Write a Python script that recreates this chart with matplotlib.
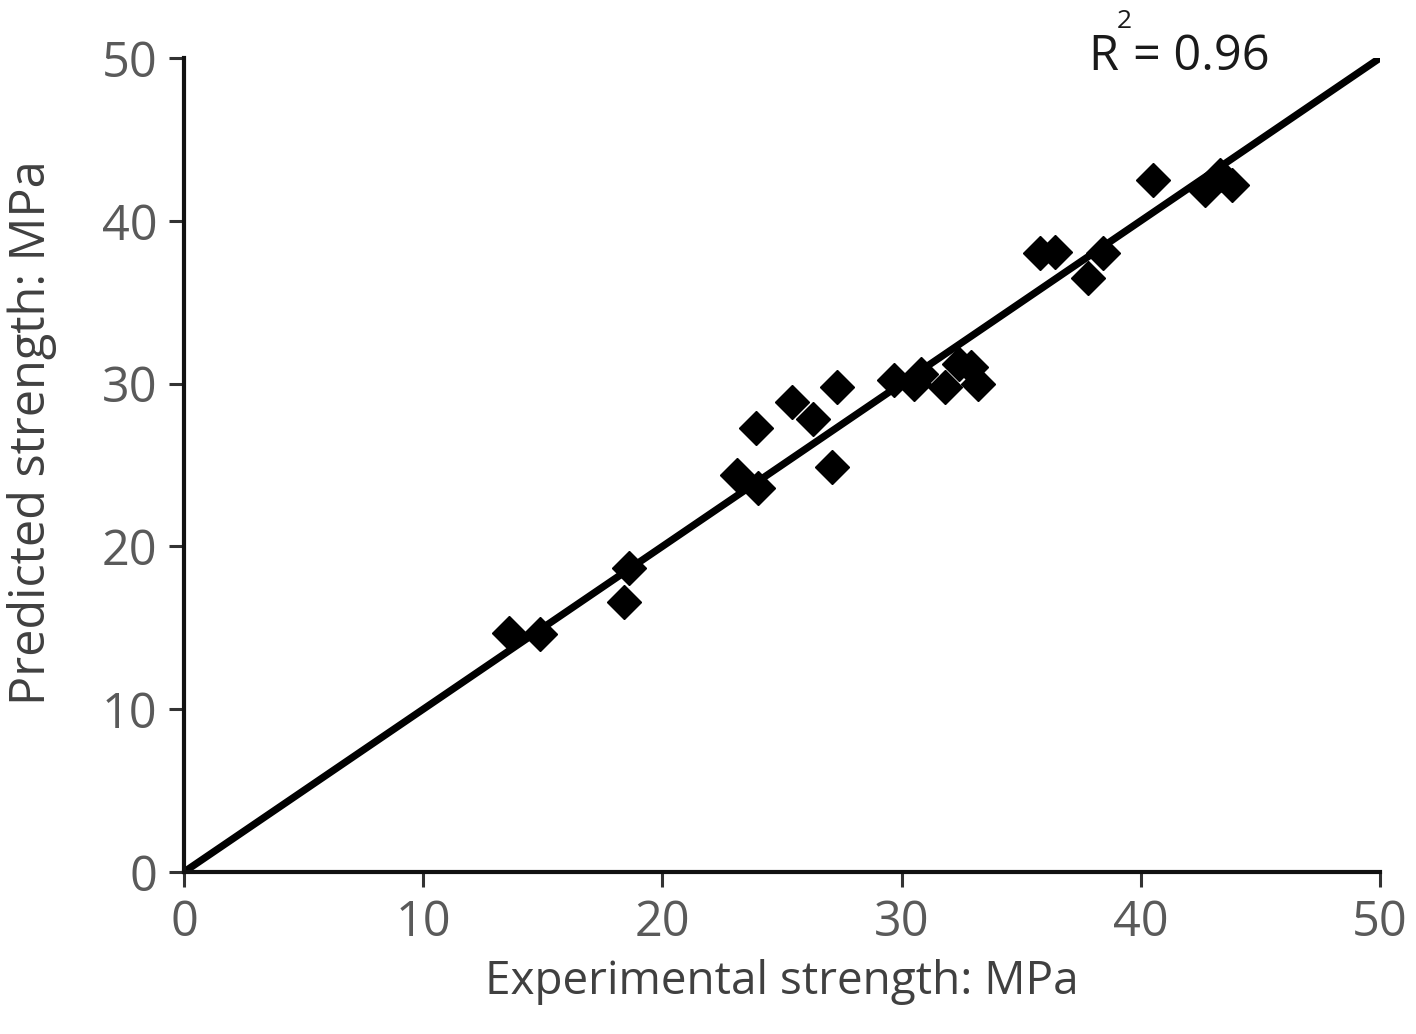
import matplotlib
matplotlib.use("Agg")
import matplotlib.pyplot as plt
from matplotlib import font_manager

# Experimental vs predicted compressive strength (MPa)
experimental = [13.6, 14.9, 18.4, 18.6, 23.1, 23.9, 24.0, 25.4, 26.3, 27.3, 27.1,
                29.7, 30.5, 30.8, 31.8, 32.4, 32.9, 33.2,
                35.8, 36.4, 37.8, 38.4, 40.5, 42.7, 43.3, 43.8]
predicted = [14.7, 14.6, 16.6, 18.7, 24.4, 27.3, 23.6, 28.9, 27.8, 29.8, 24.9,
             30.2, 30.0, 30.6, 29.8, 31.2, 31.0, 30.0,
             38.0, 38.1, 36.5, 38.0, 42.5, 41.9, 42.8, 42.2]
fit_line = [0, 50]
ticks = [0, 10, 20, 30, 40, 50]

available = {f.name for f in font_manager.fontManager.ttflist}
label_font = "Liberation Sans Narrow" if "Liberation Sans Narrow" in available else "Open Sans"
plt.rcParams["font.family"] = ["Open Sans", "DejaVu Sans"]

W, H = 1416, 1034
fig = plt.figure(figsize=(W / 100, H / 100), dpi=100)
ax = fig.add_axes([184 / W, 1 - 872 / H, (1380 - 184) / W, (872 - 58) / H])

ax.plot(fit_line, fit_line, color="black", lw=5.2, solid_capstyle="butt", zorder=2)
ax.plot(experimental, predicted, linestyle="none", marker="D", markersize=17,
        color="black", zorder=3)

ax.set_xlim(0, 50)
ax.set_ylim(0, 50)
ax.set_xticks(ticks)
ax.set_yticks(ticks)
for s in ("top", "right"):
    ax.spines[s].set_visible(False)
for s in ("left", "bottom"):
    ax.spines[s].set_linewidth(3)
    ax.spines[s].set_color("#111111")
ax.tick_params(direction="out", length=11, width=2.2, colors="#333333",
               labelcolor="#5a5a5a", labelsize=35, pad=8)

ax.set_xlabel("Experimental strength: MPa", fontsize=33, color="#404040",
              family=[label_font, "DejaVu Sans"], labelpad=8)
ax.set_ylabel("Predicted strength: MPa", fontsize=35, color="#404040",
              family=[label_font, "DejaVu Sans"], labelpad=0)
ax.yaxis.set_label_coords(-0.106, 0.54)

# coefficient of determination, with a raised "2"
r2_kw = dict(transform=fig.transFigure, color="#1a1a1a", va="center", ha="left")
fig.text(1088 / W, 1 - 57 / H, "R", fontsize=35, **r2_kw)
fig.text(1117 / W, 1 - 22 / H, "2", fontsize=19, **r2_kw)
fig.text(1133 / W, 1 - 57 / H, "= 0.96", fontsize=35, **r2_kw)

fig.savefig("out.png", dpi=100)
